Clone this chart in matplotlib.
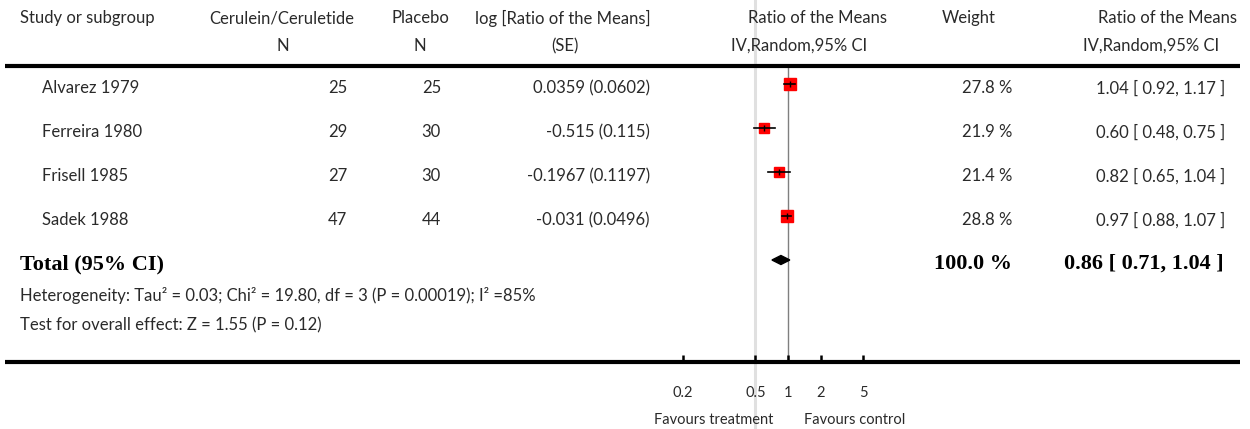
import numpy as np
import matplotlib.pyplot as plt

# study data
studies = ["Alvarez 1979", "Ferreira 1980", "Frisell 1985", "Sadek 1988"]
n_treat = [25, 29, 27, 47]
n_ctrl = [25, 30, 30, 44]
log_rom = ["0.0359 (0.0602)", "-0.515 (0.115)", "-0.1967 (0.1197)", "-0.031 (0.0496)"]
weights = [27.8, 21.9, 21.4, 28.8]
rom = [1.04, 0.60, 0.82, 0.97]
ci_low = [0.92, 0.48, 0.65, 0.88]
ci_high = [1.17, 0.75, 1.04, 1.07]

total_rom = 0.86
total_low = 0.71
total_high = 1.04
total_weight = 100.0

tick_vals = [0.107, 0.5, 1, 2, 5]
tick_labels = ["0.2", "0.5", "1", "2", "5"]

W, H = 1250, 429
fig = plt.figure(figsize=(W / 100, H / 100), dpi=100)
plt.rcParams['font.family'] = ['Lato', 'DejaVu Sans']
txt = '#2a2a2a'
fs = 12

# forest panel, log scale
top_px, bot_px = 66, 362
left_px, right_px = 600, 1000
ax = fig.add_axes([left_px / W, (H - bot_px) / H, (right_px - left_px) / W, (bot_px - top_px) / H])
ax.set_zorder(0)
ax.patch.set_alpha(0)
ax.set_xscale('log')
ax.set_xlim(10 ** ((left_px - 788) / 108), 10 ** ((right_px - 788) / 108))
ax.set_ylim(bot_px, top_px)
for s in ax.spines.values():
    s.set_visible(False)
ax.set_yticks([])
ax.set_xticks(tick_vals, labels=tick_labels)
ax.minorticks_off()
ax.tick_params(axis='x', direction='in', length=5, width=1.8, color='black',
               pad=17, labelsize=10.5, labelcolor=txt)

# full-figure overlay in pixel units for the table text
ov = fig.add_axes([0, 0, 1, 1])
ov.set_zorder(1)
ov.patch.set_alpha(0)
ov.set_xlim(0, W)
ov.set_ylim(H, 0)
ov.axis('off')

# reference lines
h_ax = bot_px - top_px
ax.axvline(0.5, ymin=(bot_px - H) / h_ax, ymax=bot_px / h_ax, color='#e0e0e0', lw=2.2,
           clip_on=False, zorder=0)
ax.axvline(1, color='#7f7f7f', lw=1, zorder=1)

row_y = [84 + 44 * i for i in range(len(studies))]
total_y = row_y[-1] + 44

for i in range(len(studies)):
    y = row_y[i]
    ms = 8.2 * np.sqrt(weights[i] / max(weights))
    ax.plot(rom[i], y, marker='s', ms=ms, color='red', mec='red', zorder=3, ls='none')
    ax.plot([ci_low[i], ci_high[i]], [y, y], color='black', lw=1.2, zorder=4)
    ax.plot(rom[i], y, marker='|', ms=5, color='black', mew=1, zorder=4, ls='none')

ax.fill([total_low, total_rom, total_high, total_rom],
        [total_y, total_y - 4.5, total_y, total_y + 4.5], color='black', zorder=3)

# horizontal rules
ov.plot([5, 1240], [66, 66], color='black', lw=3, solid_capstyle='butt')
ov.plot([5, 1240], [362, 362], color='black', lw=3, solid_capstyle='butt')

# headers
hy1, hy2 = 18, 46
ov.text(20, hy1, "Study or subgroup", ha='left', va='center', fontsize=fs, color=txt)
ov.text(282, hy1, "Cerulein/Ceruletide", ha='center', va='center', fontsize=fs, color=txt)
ov.text(420, hy1, "Placebo", ha='center', va='center', fontsize=fs, color=txt)
ov.text(563, hy1, "log [Ratio of the Means]", ha='center', va='center', fontsize=fs, color=txt)
ov.text(818, hy1, "Ratio of the Means", ha='center', va='center', fontsize=fs, color=txt)
ov.text(969, hy1, "Weight", ha='center', va='center', fontsize=fs, color=txt)
ov.text(1237, hy1, "Ratio of the Means", ha='right', va='center', fontsize=fs, color=txt)
ov.text(283, hy2, "N", ha='center', va='center', fontsize=fs, color=txt)
ov.text(420, hy2, "N", ha='center', va='center', fontsize=fs, color=txt)
ov.text(565, hy2, "(SE)", ha='center', va='center', fontsize=fs, color=txt)
ov.text(799, hy2, "IV,Random,95% CI", ha='center', va='center', fontsize=fs, color=txt)
ov.text(1151, hy2, "IV,Random,95% CI", ha='center', va='center', fontsize=fs, color=txt)

# study rows
for i in range(len(studies)):
    y = row_y[i] + 4
    ov.text(42, y, studies[i], ha='left', va='center', fontsize=fs, color=txt)
    ov.text(347, y, str(n_treat[i]), ha='right', va='center', fontsize=fs, color=txt)
    ov.text(441, y, str(n_ctrl[i]), ha='right', va='center', fontsize=fs, color=txt)
    ov.text(650, y, log_rom[i], ha='right', va='center', fontsize=fs, color=txt)
    ov.text(1012, y, f"{weights[i]:.1f} %", ha='right', va='center', fontsize=fs, color=txt)
    ov.text(1225, y, f"{rom[i]:.2f} [ {ci_low[i]:.2f}, {ci_high[i]:.2f} ]",
            ha='right', va='center', fontsize=fs, color=txt)

# total row
serif = ['Liberation Serif', 'DejaVu Serif']
ty = total_y + 4
bfs = 16
ov.text(20, ty, "Total (95% CI)", ha='left', va='center', fontsize=bfs,
        fontweight='bold', family=serif, color='black')
ov.text(1012, ty, f"{total_weight:.1f} %", ha='right', va='center', fontsize=bfs,
        fontweight='bold', family=serif, color='black')
ov.text(1224, ty, f"{total_rom:.2f} [ {total_low:.2f}, {total_high:.2f} ]", ha='right',
        va='center', fontsize=bfs, fontweight='bold', family=serif, color='black')

ov.text(20, 296, "Heterogeneity: Tau² = 0.03; Chi² = 19.80, df = 3 (P = 0.00019); I² =85%",
        ha='left', va='center', fontsize=fs, color=txt)
ov.text(20, 325, "Test for overall effect: Z = 1.55 (P = 0.12)",
        ha='left', va='center', fontsize=fs, color=txt)

# direction labels
ov.text(773, 420, "Favours treatment", ha='right', va='center', fontsize=10.5, color=txt)
ov.text(804, 420, "Favours control", ha='left', va='center', fontsize=10.5, color=txt)

fig.savefig("out.png", dpi=100)
